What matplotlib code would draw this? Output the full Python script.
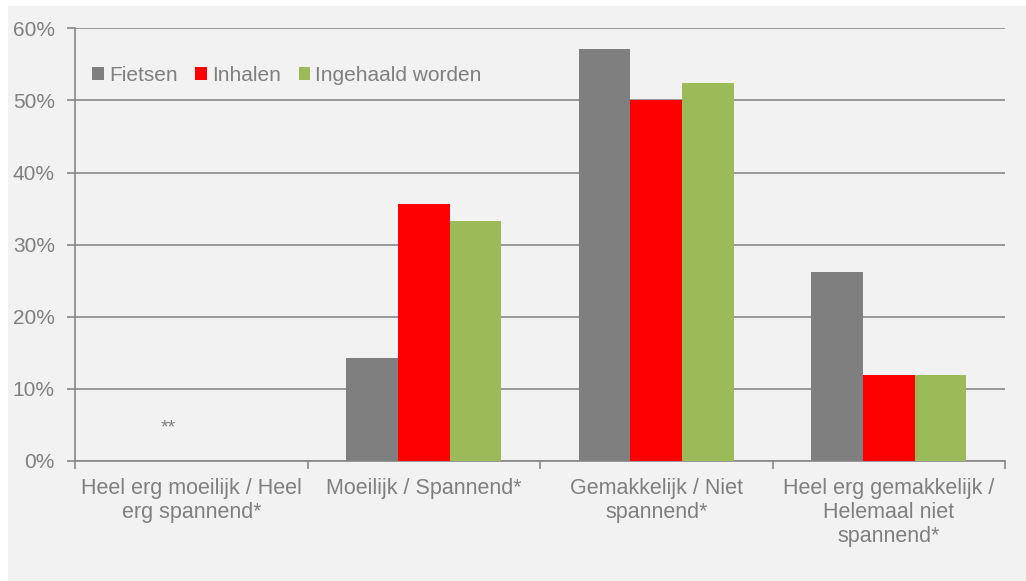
import matplotlib
matplotlib.use("Agg")
import matplotlib.pyplot as plt
from matplotlib.patches import Rectangle
import numpy as np

plt.rcParams['font.family'] = ['Liberation Sans', 'DejaVu Sans']

categories = [
    "Heel erg moeilijk / Heel\nerg spannend*",
    "Moeilijk / Spannend*",
    "Gemakkelijk / Niet\nspannend*",
    "Heel erg gemakkelijk /\nHelemaal niet\nspannend*",
]
series_names = ["Fietsen", "Inhalen", "Ingehaald worden"]
fietsen = [0.0, 14.3, 57.1, 26.2]
inhalen = [0.0, 35.7, 50.0, 11.9]
ingehaald = [0.0, 33.3, 52.4, 11.9]
colors = ["#7f7f7f", "#ff0000", "#9bbb59"]
yticks = [0, 10, 20, 30, 40, 50, 60]
note_text = "**"

text_color = "#7f7f7f"
line_color = "#888888"
bg = "#f2f2f2"

fig = plt.figure(figsize=(10.26, 5.81), dpi=100)
fig.patch.set_facecolor("white")
fig.patches.append(Rectangle((8 / 1026, 0), 1 - 8 / 1026, 1 - 6 / 581,
                             transform=fig.transFigure, facecolor=bg,
                             edgecolor="none", zorder=-10))

ax = fig.add_axes([75 / 1026, 1 - 461 / 581, (1005 - 75) / 1026, (461 - 28.3) / 581])
ax.set_facecolor(bg)

x = np.arange(len(categories))
w = 0.222
for i, (vals, name) in enumerate(zip([fietsen, inhalen, ingehaald], series_names)):
    ax.bar(x + (i - 1) * w, vals, width=w, color=colors[i], label=name,
           zorder=3, linewidth=0)

ax.text(-0.1, 4.6, note_text, ha="center", va="center", fontsize=14, color=text_color)

ax.set_xlim(-0.5, len(categories) - 0.5)
ax.set_ylim(0, 60)
ax.set_yticks(yticks)
ax.set_yticklabels([f"{v}%" for v in yticks])
ax.yaxis.grid(True, color=line_color, linewidth=1.2, zorder=1)
ax.set_axisbelow(True)

ax.set_xticks(x)
ax.set_xticklabels(categories, fontsize=15.5, color=text_color, linespacing=1.2)
ax.set_xticks(np.arange(-0.5, len(categories)), minor=True)
ax.tick_params(axis="x", which="major", length=0, pad=12)
ax.tick_params(axis="x", which="minor", length=6, width=1.2, color=line_color)
ax.tick_params(axis="y", length=6, width=1.2, color=line_color, labelsize=15,
               labelcolor=text_color, pad=8.5)

for s in ["top", "right"]:
    ax.spines[s].set_visible(False)
for s in ["left", "bottom"]:
    ax.spines[s].set_color(line_color)
    ax.spines[s].set_linewidth(1.2)

leg = ax.legend(loc="upper left", bbox_to_anchor=(0.003, 0.947), ncol=3, frameon=False,
                fontsize=15, handlelength=0.55, handleheight=0.55,
                handletextpad=0.25, columnspacing=0.85, borderaxespad=0.3)
for t in leg.get_texts():
    t.set_color(text_color)

fig.savefig("out.png", dpi=100, facecolor=fig.get_facecolor())
